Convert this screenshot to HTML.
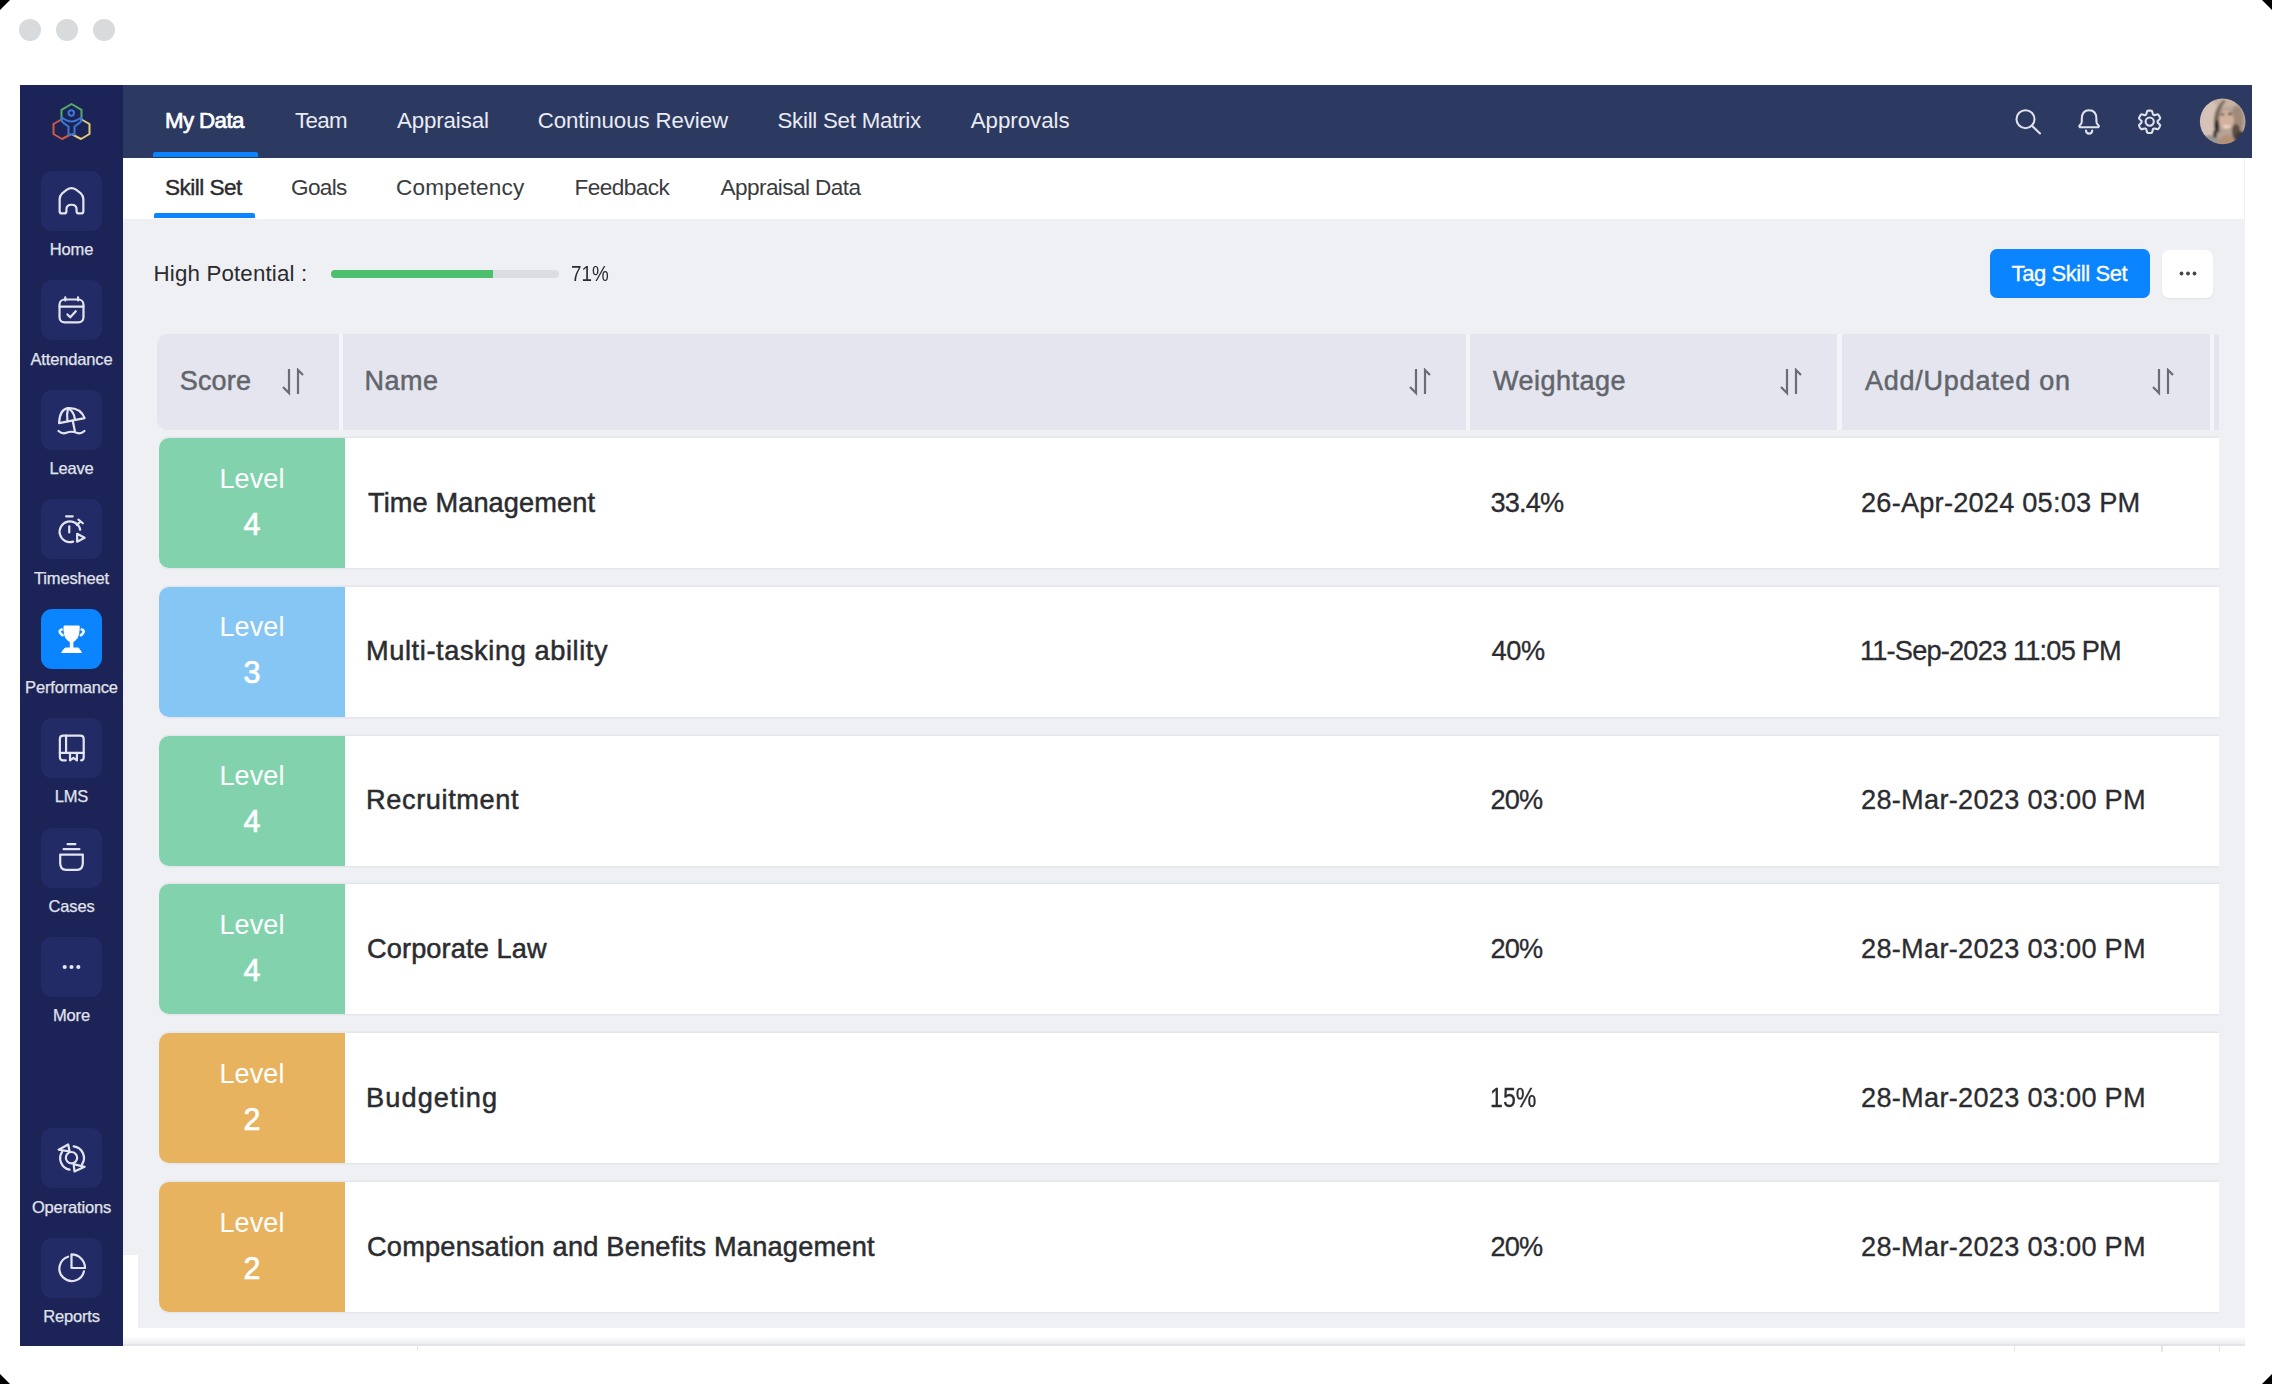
<!DOCTYPE html>
<html><head><meta charset="utf-8"><style>
*{box-sizing:border-box;margin:0;padding:0}
html,body{width:2272px;height:1384px;overflow:hidden;background:#fff}
body{position:relative;font-family:"Liberation Sans",sans-serif}
.a{position:absolute}
.tx{position:absolute;white-space:pre;line-height:1;}
.sl{position:absolute;left:20px;width:103px;text-align:center;font-size:16.5px;line-height:1;color:#e1e3ec;white-space:pre;letter-spacing:-0.15px;-webkit-text-stroke:0.25px #e1e3ec}
.sbox{position:absolute;left:41px;width:61px;height:60px;border-radius:11px}
.ic{position:absolute;left:0;top:0}
.row{position:absolute;left:159px;width:2060px;height:130px;background:#fff;border-radius:10px 0 0 10px;box-shadow:0 -1.5px 0 #e3e6ed,0 1.5px 0 #e3e6ed}
.lvl{position:absolute;left:0;top:0;width:186px;height:130px;border-radius:10px 0 0 10px;color:#fff}
.lv1{position:absolute;left:0;width:186px;text-align:center;top:27.5px;font-size:27px;line-height:1;letter-spacing:0.1px}
.lv2{position:absolute;left:0;width:186px;text-align:center;top:70.5px;font-size:30.5px;line-height:1;-webkit-text-stroke:0.7px #fff}
.hc{position:absolute;top:334px;height:96px;background:#e4e5ee}
.srt{position:absolute;top:368px}
</style></head><body>
<!-- corners -->
<svg class="a" style="left:0;top:0" width="2272" height="1384"><g fill="#000"><path d="M0 0 H10 L0 10 Z"/><path d="M2272 0 H2262 L2272 10 Z"/><path d="M0 1384 V1374 L10 1384 Z"/><path d="M2272 1384 V1374 L2262 1384 Z"/></g>
<g fill="#d9dadb"><circle cx="30" cy="29.9" r="11"/><circle cx="67" cy="29.9" r="11"/><circle cx="104" cy="29.9" r="11"/></g></svg>

<!-- sidebar -->
<div class="a" style="left:20px;top:85px;width:103px;height:1261px;background:#1c2457"></div>
<svg class="a" style="left:45px;top:95px" width="55" height="55" viewBox="45 95 55 55">
<g fill="none" stroke-width="2" stroke-linejoin="round" stroke-linecap="round">
<path d="M61.5 120 V109.8 L71.5 104 L81.5 109.8 V120" stroke="#58a86a"/>
<path d="M61.5 119.5 L53.5 124 V134 L62 139 L70.5 134.5" stroke="#d25a42"/>
<path d="M81.5 119.5 L89.5 124 V134 L81 139 L72.5 134.5" stroke="#e6cb72"/>
<path d="M62 117.5 Q67 121.5 71.5 121.5 Q76 121.5 81 117.5 L81.5 120.5 Q80 123 74.5 126.5 V134.5 H68.5 V126.5 Q63 123 61.5 120.5 Z" stroke="#3c78d2"/>
<circle cx="71.3" cy="113" r="2.7" stroke="#3c78d2"/>
</g></svg>
<div class="sbox" style="top:170.5px;background:#222b66"><svg class="ic" width="61" height="60" viewBox="-30.5 -30 61 60"><g transform="translate(0 0) scale(1.13)" fill="none" stroke="#e3e5ee" stroke-width="1.95" stroke-linecap="round" stroke-linejoin="round"><path d="M-10.5 9 V-1.5 Q-10.5 -4.5 -8 -7 L-4 -10 Q0 -13 4 -10 L8 -7 Q10.5 -4.5 10.5 -1.5 V9 Q10.5 11 8.5 11 H6.5 Q4.5 11 4.5 9 V7.5 Q4.5 3.3 0 3.3 Q-4.5 3.3 -4.5 7.5 V9 Q-4.5 11 -6.5 11 H-8.5 Q-10.5 11 -10.5 9 Z"/></g></svg></div><div class="sbox" style="top:280px;background:#222b66"><svg class="ic" width="61" height="60" viewBox="-30.5 -30 61 60"><g transform="translate(0 0) scale(1.13)" fill="none" stroke="#e3e5ee" stroke-width="1.95" stroke-linecap="round" stroke-linejoin="round"><rect x="-10.6" y="-9.3" width="21.2" height="20.3" rx="4.5"/><path d="M-5.5 -11.2 V-8.5 M5.8 -11.2 V-8.5 M-10.6 -3 H10.6"/><path d="M-3.6 3.9 L-1.1 6.5 L3.8 1.1"/></g></svg></div><div class="sbox" style="top:389.5px;background:#222b66"><svg class="ic" width="61" height="60" viewBox="-30.5 -30 61 60"><g transform="translate(0 0) scale(1.13)" fill="none" stroke="#e3e5ee" stroke-width="1.95" stroke-linecap="round" stroke-linejoin="round"><path d="M-11 2.7 Q-10.5 -9.5 -3 -10.5 Q8 -11 11.6 -1.6 Z"/><path d="M-3 -10.5 Q-4.5 -5 -3.6 1 M-3 -10.5 Q2.5 -7 3 -0.8 M1.1 0.7 L3 10"/><path d="M-11.5 9.7 Q-8 12.8 -4.5 11.3 Q0 9.5 4.5 11.3 Q8 12.8 11.5 9.7"/></g></svg></div><div class="sbox" style="top:499px;background:#222b66"><svg class="ic" width="61" height="60" viewBox="-30.5 -30 61 60"><g transform="translate(0 0) scale(1.13)" fill="none" stroke="#e3e5ee" stroke-width="1.95" stroke-linecap="round" stroke-linejoin="round"><path d="M-4.8 -11.2 H1.1"/><path d="M7.7 0.7 A9.2 9.2 0 1 0 1.5 11.2"/><path d="M-2 -2.4 V3.1"/><path d="M6.1 -8.3 L10 -5.1 M4.7 -3.7 L8 -6.6"/><path d="M5 4.2 L11.6 7.8 L5 11.2 Z"/></g></svg></div><div class="sbox" style="top:608.5px;background:#0b84ff"><svg class="ic" width="61" height="60" viewBox="-30.5 -30 61 60"><g fill="#fff" stroke="#fff" stroke-width="1" stroke-linejoin="round"><path d="M-7.5 -13 H7.7 Q7.9 -4 5 0 Q3 2.6 0.1 2.8 Q-3 2.6 -5 0 Q-7.9 -4 -7.5 -13 Z"/><rect x="-1.2" y="2" width="2.6" height="7.5"/><path d="M-5.5 9 H6.5 Q7.5 9 8 10.5 L10 13.5 H-9.8 L-7.8 10.5 Q-7 9 -5.5 9 Z"/></g><g fill="none" stroke="#fff" stroke-width="2.6" stroke-linecap="round"><path d="M-9.8 -9.5 Q-12.5 -8.8 -11.5 -6.5 Q-10.8 -5 -9 -3.8"/><path d="M10.2 -9.5 Q12.9 -8.8 11.9 -6.5 Q11.2 -5 9.4 -3.8"/></g></svg></div><div class="sbox" style="top:718px;background:#222b66"><svg class="ic" width="61" height="60" viewBox="-30.5 -30 61 60"><g transform="translate(0 0) scale(1.13)" fill="none" stroke="#e3e5ee" stroke-width="1.95" stroke-linecap="round" stroke-linejoin="round"><path d="M-5 10.9 H-7.3 Q-10.3 10.9 -10.3 7.9 V-8 Q-10.3 -11 -7.3 -11 H7.8 Q10.8 -11 10.8 -8 V7.9 Q10.8 10.9 8.5 10.9"/><path d="M-4.8 -11 V4.25 M-10.3 4.25 H10.8"/><path d="M-1.3 4.25 V11 L1.75 8.8 L4.8 11 V4.25"/></g></svg></div><div class="sbox" style="top:827.5px;background:#222b66"><svg class="ic" width="61" height="60" viewBox="-30.5 -30 61 60"><g transform="translate(0 0) scale(1.13)" fill="none" stroke="#e3e5ee" stroke-width="1.95" stroke-linecap="round" stroke-linejoin="round"><path d="M-3.5 -12.3 H3.5 M-7 -7.8 H7"/><path d="M-10 -3 H10 V4.5 Q10 10.5 5 10.5 H-5 Q-10 10.5 -10 4.5 Z"/></g></svg></div><div class="sbox" style="top:937px;background:#222b66"><svg class="ic" width="61" height="60" viewBox="-30.5 -30 61 60"><g fill="#e6e8f0"><circle cx="-6.8" cy="0" r="2.1"/><circle cx="0" cy="0" r="2.1"/><circle cx="6.8" cy="0" r="2.1"/></g></svg></div><div class="sbox" style="top:1128px;background:#222b66"><svg class="ic" width="61" height="60" viewBox="-30.5 -30 61 60"><g transform="translate(0 0) scale(1.13)" fill="none" stroke="#e3e5ee" stroke-width="1.95" stroke-linecap="round" stroke-linejoin="round"><circle cx="0" cy="-0.3" r="5"/><path d="M-8.3 -5.5 A10.3 10.3 0 0 0 -1.7 10.3"/><path d="M1.9 -10.3 A10.3 10.3 0 0 1 9.3 5.6"/><path d="M-11.4 -7.3 L-2.9 -12 L-1.7 -5.9 Z M11.6 7.8 L2.65 11.9 L1.86 5.4 Z"/></g></svg></div><div class="sbox" style="top:1237.5px;background:#222b66"><svg class="ic" width="61" height="60" viewBox="-30.5 -30 61 60"><g transform="translate(0 0) scale(1.13)" fill="none" stroke="#e3e5ee" stroke-width="1.95" stroke-linecap="round" stroke-linejoin="round"><path d="M-3 -10 A11 11 0 1 0 11 3"/><path d="M0 -12 V0 H12 A12 12 0 0 0 0 -12 Z"/></g></svg></div>
<div class="sl" style="top:240.88px">Home</div><div class="sl" style="top:350.88px">Attendance</div><div class="sl" style="top:459.88px">Leave</div><div class="sl" style="top:569.88px">Timesheet</div><div class="sl" style="top:678.88px">Performance</div><div class="sl" style="top:787.88px">LMS</div><div class="sl" style="top:897.88px">Cases</div><div class="sl" style="top:1006.88px">More</div><div class="sl" style="top:1198.88px">Operations</div><div class="sl" style="top:1308.38px">Reports</div>

<!-- topnav -->
<div class="a" style="left:123px;top:85px;width:2129px;height:73px;background:#2c3961"></div>
<div class="a" style="left:153px;top:152px;width:105px;height:5px;background:#0b84ff;border-radius:2px 2px 0 0"></div>
<svg class="a" style="left:2000px;top:95px" width="180" height="55" viewBox="2000 95 180 55"><g fill="none" stroke="#dfe2ea" stroke-width="2.1" stroke-linecap="round" stroke-linejoin="round">
<circle cx="2025.5" cy="119.2" r="9"/><path d="M2032 125.8 L2040 133.5"/>
<path d="M2081.8 119 Q2081.8 110.3 2089.1 110.3 Q2096.4 110.3 2096.4 119 V121.5 Q2096.4 123.5 2098.2 125 Q2099.5 126.5 2098.2 127.3 H2080 Q2078.7 126.5 2080 125 Q2081.8 123.5 2081.8 121.5 Z"/><path d="M2086 130.5 Q2086 133.6 2089.1 133.6 Q2092.2 133.6 2092.2 130.5"/>
<path d="M2157.60 121.80 L2157.60 122.08 L2157.58 122.36 L2157.80 122.66 L2158.12 123.00 L2158.50 123.37 L2158.92 123.78 L2159.35 124.23 L2159.78 124.72 L2160.17 125.23 L2160.12 125.63 L2159.98 126.00 L2159.83 126.36 L2159.67 126.71 L2159.49 127.06 L2159.30 127.40 L2159.10 127.74 L2158.89 128.06 L2158.66 128.38 L2158.43 128.70 L2158.18 129.00 L2157.86 129.23 L2157.22 129.15 L2156.58 129.03 L2155.98 128.88 L2155.41 128.73 L2154.90 128.58 L2154.45 128.47 L2154.07 128.43 L2153.84 128.58 L2153.60 128.73 L2153.36 128.86 L2153.11 128.99 L2152.96 129.34 L2152.82 129.78 L2152.69 130.29 L2152.54 130.86 L2152.37 131.46 L2152.16 132.07 L2151.91 132.67 L2151.54 132.83 L2151.16 132.89 L2150.77 132.94 L2150.38 132.97 L2149.99 132.99 L2149.60 133.00 L2149.21 132.99 L2148.82 132.97 L2148.43 132.94 L2148.04 132.89 L2147.66 132.83 L2147.29 132.67 L2147.04 132.07 L2146.83 131.46 L2146.66 130.86 L2146.51 130.29 L2146.38 129.78 L2146.24 129.34 L2146.09 128.99 L2145.84 128.86 L2145.60 128.73 L2145.36 128.58 L2145.13 128.43 L2144.75 128.47 L2144.30 128.58 L2143.79 128.73 L2143.22 128.88 L2142.62 129.03 L2141.98 129.15 L2141.34 129.23 L2141.02 129.00 L2140.77 128.70 L2140.54 128.38 L2140.31 128.06 L2140.10 127.74 L2139.90 127.40 L2139.71 127.06 L2139.53 126.71 L2139.37 126.36 L2139.22 126.00 L2139.08 125.63 L2139.03 125.23 L2139.42 124.72 L2139.85 124.23 L2140.28 123.78 L2140.70 123.37 L2141.08 123.00 L2141.40 122.66 L2141.62 122.36 L2141.60 122.08 L2141.60 121.80 L2141.60 121.52 L2141.62 121.24 L2141.40 120.94 L2141.08 120.60 L2140.70 120.23 L2140.28 119.82 L2139.85 119.37 L2139.42 118.88 L2139.03 118.37 L2139.08 117.97 L2139.22 117.60 L2139.37 117.24 L2139.53 116.89 L2139.71 116.54 L2139.90 116.20 L2140.10 115.86 L2140.31 115.54 L2140.54 115.22 L2140.77 114.90 L2141.02 114.60 L2141.34 114.37 L2141.98 114.45 L2142.62 114.57 L2143.22 114.72 L2143.79 114.87 L2144.30 115.02 L2144.75 115.13 L2145.13 115.17 L2145.36 115.02 L2145.60 114.87 L2145.84 114.74 L2146.09 114.61 L2146.24 114.26 L2146.38 113.82 L2146.51 113.31 L2146.66 112.74 L2146.83 112.14 L2147.04 111.53 L2147.29 110.93 L2147.66 110.77 L2148.04 110.71 L2148.43 110.66 L2148.82 110.63 L2149.21 110.61 L2149.60 110.60 L2149.99 110.61 L2150.38 110.63 L2150.77 110.66 L2151.16 110.71 L2151.54 110.77 L2151.91 110.93 L2152.16 111.53 L2152.37 112.14 L2152.54 112.74 L2152.69 113.31 L2152.82 113.82 L2152.96 114.26 L2153.11 114.61 L2153.36 114.74 L2153.60 114.87 L2153.84 115.02 L2154.07 115.17 L2154.45 115.13 L2154.90 115.02 L2155.41 114.87 L2155.98 114.72 L2156.58 114.57 L2157.22 114.45 L2157.86 114.37 L2158.18 114.60 L2158.43 114.90 L2158.66 115.22 L2158.89 115.54 L2159.10 115.86 L2159.30 116.20 L2159.49 116.54 L2159.67 116.89 L2159.83 117.24 L2159.98 117.60 L2160.12 117.97 L2160.17 118.37 L2159.78 118.88 L2159.35 119.37 L2158.92 119.82 L2158.50 120.23 L2158.12 120.60 L2157.80 120.94 L2157.58 121.24 L2157.60 121.52 Z"/>
<circle cx="2149.7" cy="121.6" r="4.1"/>
</g></svg>
<svg class="a" style="left:2195px;top:93px" width="56" height="57" viewBox="2195 93 56 57">
<defs><clipPath id="avc"><circle cx="2222.7" cy="121.4" r="22.8"/></clipPath><filter id="avb" x="-20%" y="-20%" width="140%" height="140%"><feGaussianBlur stdDeviation="1.1"/></filter></defs>
<g clip-path="url(#avc)"><g filter="url(#avb)">
<rect x="2195" y="93" width="56" height="57" fill="#b7a398"/>
<ellipse cx="2208" cy="116" rx="11" ry="22" fill="#d6c2b8"/>
<ellipse cx="2226" cy="101" rx="13" ry="6" fill="#c8b3a2"/>
<path d="M2223 100 Q2215 108 2214 118 Q2213 126 2215 133 L2220 133 Q2218 122 2220 112 Q2222 105 2226 101 Z" fill="#7a6a5e"/><ellipse cx="2217" cy="126" rx="2.2" ry="6" fill="#2f2c2b"/>
<ellipse cx="2237" cy="120" rx="6" ry="14" fill="#a08a78"/><ellipse cx="2236" cy="132" rx="4" ry="8" fill="#5b4d45"/>
<ellipse cx="2226.5" cy="120" rx="7.5" ry="9.5" fill="#d2b29c"/>
<ellipse cx="2222.5" cy="114.5" rx="2" ry="1.1" fill="#3f4843"/>
<ellipse cx="2230" cy="114" rx="2.2" ry="1.2" fill="#3f4843"/>
<ellipse cx="2226.5" cy="126.5" rx="3.6" ry="1.5" fill="#ecd8cc"/>
<ellipse cx="2227" cy="142" rx="8" ry="7" fill="#b39177"/>
<ellipse cx="2241" cy="140" rx="6" ry="9" fill="#3d383a"/>
<ellipse cx="2210" cy="141" rx="9" ry="6" fill="#9d9591"/>
<ellipse cx="2215" cy="134" rx="2" ry="4" fill="#4a3f3b"/>
</g></g></svg>

<!-- subnav -->
<div class="a" style="left:123px;top:158px;width:2122px;height:61px;background:#fff;border-right:1px solid #eceef1"></div>
<div class="a" style="left:154px;top:213px;width:101px;height:5px;background:#0b84ff;border-radius:2px 2px 0 0"></div>

<!-- content -->
<div class="a" style="left:123px;top:219px;width:2122px;height:1109px;background:#eff0f4"></div>
<div class="a" style="left:123px;top:1255px;width:15px;height:91px;background:#fff"></div>
<div class="a" style="left:123px;top:1336px;width:2122px;height:8px;background:linear-gradient(rgba(230,231,234,0),rgba(230,231,234,0.7))"></div>
<div class="a" style="left:123px;top:1344px;width:2122px;height:2px;background:#e3e4e7"></div>
<div class="a" style="left:416.5px;top:1346px;width:1.5px;height:5px;background:#e6e6e8"></div><div class="a" style="left:2013.5px;top:1346px;width:1.5px;height:6px;background:#e6e6e8"></div><div class="a" style="left:2161px;top:1346px;width:1.5px;height:6px;background:#e6e6e8"></div><div class="a" style="left:2218.5px;top:1346px;width:1.5px;height:6px;background:#e6e6e8"></div>

<div class="a" style="left:331px;top:269.5px;width:228px;height:8px;border-radius:4px;background:#dcdde1"></div>
<div class="a" style="left:331px;top:269.5px;width:162px;height:8px;border-radius:4px 0 0 4px;background:#4cbf6e"></div>

<div class="a" style="left:1990px;top:249px;width:160px;height:49px;border-radius:7px;background:#0b84ff"></div>
<div class="a" style="left:2162px;top:250px;width:51px;height:48px;border-radius:7px;background:#fff;box-shadow:0 1px 2px rgba(0,0,0,0.06)"></div>
<svg class="a" style="left:2170px;top:265px" width="36" height="16"><g fill="#45464a"><circle cx="11.5" cy="8.5" r="1.9"/><circle cx="18" cy="8.5" r="1.9"/><circle cx="24.5" cy="8.5" r="1.9"/></g></svg>

<!-- header -->
<div class="a" style="left:200px;top:334px;width:2019px;height:96px;background:#f4f5f9"></div>
<div class="hc" style="left:157px;width:182px;border-radius:11px 0 0 11px"></div>
<div class="hc" style="left:343px;width:1123px"></div>
<div class="hc" style="left:1470px;width:367px"></div>
<div class="hc" style="left:1842px;width:368px"></div>
<div class="hc" style="left:2214px;width:5px"></div>
<div class="srt" style="left:281px"><svg width="24" height="28" viewBox="0 0 24 28"><g fill="none" stroke="#6a6d74" stroke-width="2.2" stroke-linecap="butt" stroke-linejoin="miter"><path d="M8 1 V25 L2 19"/><path d="M17 26 V2 L22 7"/></g></svg></div>
<div class="srt" style="left:1408px"><svg width="24" height="28" viewBox="0 0 24 28"><g fill="none" stroke="#6a6d74" stroke-width="2.2" stroke-linecap="butt" stroke-linejoin="miter"><path d="M8 1 V25 L2 19"/><path d="M17 26 V2 L22 7"/></g></svg></div>
<div class="srt" style="left:1779px"><svg width="24" height="28" viewBox="0 0 24 28"><g fill="none" stroke="#6a6d74" stroke-width="2.2" stroke-linecap="butt" stroke-linejoin="miter"><path d="M8 1 V25 L2 19"/><path d="M17 26 V2 L22 7"/></g></svg></div>
<div class="srt" style="left:2151px"><svg width="24" height="28" viewBox="0 0 24 28"><g fill="none" stroke="#6a6d74" stroke-width="2.2" stroke-linecap="butt" stroke-linejoin="miter"><path d="M8 1 V25 L2 19"/><path d="M17 26 V2 L22 7"/></g></svg></div>

<div class="row" style="top:438.0px"><div class="lvl" style="background:#82d3ad"><div class="lv1">Level</div><div class="lv2">4</div></div></div><div class="row" style="top:586.8px"><div class="lvl" style="background:#86c6f4"><div class="lv1">Level</div><div class="lv2">3</div></div></div><div class="row" style="top:735.6px"><div class="lvl" style="background:#82d3ad"><div class="lv1">Level</div><div class="lv2">4</div></div></div><div class="row" style="top:884.4px"><div class="lvl" style="background:#82d3ad"><div class="lv1">Level</div><div class="lv2">4</div></div></div><div class="row" style="top:1033.2px"><div class="lvl" style="background:#e8b35f"><div class="lv1">Level</div><div class="lv2">2</div></div></div><div class="row" style="top:1182.0px"><div class="lvl" style="background:#e8b35f"><div class="lv1">Level</div><div class="lv2">2</div></div></div>
<div class="tx" style="left:165.00px;top:109.52px;font-size:22.3px;letter-spacing:-0.602px;color:#ffffff;-webkit-text-stroke:0.7px #fff;">My Data</div><div class="tx" style="left:295.00px;top:109.52px;font-size:22.3px;letter-spacing:-0.650px;color:#e9ebf2;">Team</div><div class="tx" style="left:397.00px;top:109.52px;font-size:22.3px;letter-spacing:-0.125px;color:#e9ebf2;">Appraisal</div><div class="tx" style="left:537.80px;top:109.52px;font-size:22.3px;letter-spacing:-0.113px;color:#e9ebf2;">Continuous Review</div><div class="tx" style="left:777.40px;top:109.52px;font-size:22.3px;letter-spacing:-0.246px;color:#e9ebf2;">Skill Set Matrix</div><div class="tx" style="left:970.80px;top:109.52px;font-size:22.3px;letter-spacing:-0.050px;color:#e9ebf2;">Approvals</div><div class="tx" style="left:165.00px;top:177.47px;font-size:22.6px;letter-spacing:-0.542px;color:#2a2b2e;-webkit-text-stroke:0.4px #2a2b2e;">Skill Set</div><div class="tx" style="left:291.00px;top:177.47px;font-size:22.6px;letter-spacing:-0.681px;color:#3b3c40;">Goals</div><div class="tx" style="left:396.00px;top:177.47px;font-size:22.6px;letter-spacing:0.162px;color:#3b3c40;">Competency</div><div class="tx" style="left:574.50px;top:177.47px;font-size:22.6px;letter-spacing:-0.547px;color:#3b3c40;">Feedback</div><div class="tx" style="left:720.60px;top:177.47px;font-size:22.6px;letter-spacing:-0.602px;color:#3b3c40;">Appraisal Data</div><div class="tx" style="left:153.50px;top:263.12px;font-size:22.3px;letter-spacing:0.166px;color:#2a2b2e;">High Potential :</div><div class="tx" style="left:570.96px;top:263.12px;font-size:22.3px;transform:scaleX(0.8447);transform-origin:0 0;color:#2a2b2e;">71%</div><div class="tx" style="left:2011.60px;top:262.78px;font-size:22px;letter-spacing:-0.420px;color:#ffffff;-webkit-text-stroke:0.3px #fff;">Tag Skill Set</div><div class="tx" style="left:179.70px;top:367.74px;font-size:27px;letter-spacing:0.196px;color:#62656b;-webkit-text-stroke:0.5px #62656b;">Score</div><div class="tx" style="left:364.50px;top:367.74px;font-size:27px;letter-spacing:0.465px;color:#62656b;-webkit-text-stroke:0.5px #62656b;">Name</div><div class="tx" style="left:1493.00px;top:367.74px;font-size:27px;letter-spacing:0.503px;color:#62656b;-webkit-text-stroke:0.5px #62656b;">Weightage</div><div class="tx" style="left:1865.00px;top:367.74px;font-size:27px;letter-spacing:0.758px;color:#62656b;-webkit-text-stroke:0.5px #62656b;">Add/Updated on</div><div class="tx" style="left:368.00px;top:488.58px;font-size:27.2px;letter-spacing:0.093px;color:#2b2c30;-webkit-text-stroke:0.5px #2b2c30;">Time Management</div><div class="tx" style="left:1490.50px;top:488.58px;font-size:27.2px;letter-spacing:-0.829px;color:#2b2c30;-webkit-text-stroke:0.3px #2b2c30;">33.4%</div><div class="tx" style="left:1861.00px;top:488.58px;font-size:27.2px;letter-spacing:0.215px;color:#2b2c30;-webkit-text-stroke:0.3px #2b2c30;">26-Apr-2024 05:03 PM</div><div class="tx" style="left:366.00px;top:637.38px;font-size:27.2px;letter-spacing:0.597px;color:#2b2c30;-webkit-text-stroke:0.5px #2b2c30;">Multi-tasking ability</div><div class="tx" style="left:1491.50px;top:637.38px;font-size:27.2px;letter-spacing:-0.370px;color:#2b2c30;-webkit-text-stroke:0.3px #2b2c30;">40%</div><div class="tx" style="left:1860.00px;top:637.38px;font-size:27.2px;letter-spacing:-0.813px;color:#2b2c30;-webkit-text-stroke:0.3px #2b2c30;">11-Sep-2023 11:05 PM</div><div class="tx" style="left:366.00px;top:786.18px;font-size:27.2px;letter-spacing:0.600px;color:#2b2c30;-webkit-text-stroke:0.5px #2b2c30;">Recruitment</div><div class="tx" style="left:1490.50px;top:786.18px;font-size:27.2px;letter-spacing:-0.870px;color:#2b2c30;-webkit-text-stroke:0.3px #2b2c30;">20%</div><div class="tx" style="left:1861.00px;top:786.18px;font-size:27.2px;letter-spacing:0.267px;color:#2b2c30;-webkit-text-stroke:0.3px #2b2c30;">28-Mar-2023 03:00 PM</div><div class="tx" style="left:367.00px;top:934.98px;font-size:27.2px;letter-spacing:0.109px;color:#2b2c30;-webkit-text-stroke:0.5px #2b2c30;">Corporate Law</div><div class="tx" style="left:1490.50px;top:934.98px;font-size:27.2px;letter-spacing:-0.870px;color:#2b2c30;-webkit-text-stroke:0.3px #2b2c30;">20%</div><div class="tx" style="left:1861.00px;top:934.98px;font-size:27.2px;letter-spacing:0.267px;color:#2b2c30;-webkit-text-stroke:0.3px #2b2c30;">28-Mar-2023 03:00 PM</div><div class="tx" style="left:366.00px;top:1083.78px;font-size:27.2px;letter-spacing:1.084px;color:#2b2c30;-webkit-text-stroke:0.5px #2b2c30;">Budgeting</div><div class="tx" style="left:1489.80px;top:1083.78px;font-size:27.2px;transform:scaleX(0.8518);transform-origin:0 0;color:#2b2c30;-webkit-text-stroke:0.3px #2b2c30;">15%</div><div class="tx" style="left:1861.00px;top:1083.78px;font-size:27.2px;letter-spacing:0.267px;color:#2b2c30;-webkit-text-stroke:0.3px #2b2c30;">28-Mar-2023 03:00 PM</div><div class="tx" style="left:367.00px;top:1232.58px;font-size:27.2px;letter-spacing:0.208px;color:#2b2c30;-webkit-text-stroke:0.5px #2b2c30;">Compensation and Benefits Management</div><div class="tx" style="left:1490.50px;top:1232.58px;font-size:27.2px;letter-spacing:-0.870px;color:#2b2c30;-webkit-text-stroke:0.3px #2b2c30;">20%</div><div class="tx" style="left:1861.00px;top:1232.58px;font-size:27.2px;letter-spacing:0.267px;color:#2b2c30;-webkit-text-stroke:0.3px #2b2c30;">28-Mar-2023 03:00 PM</div>
</body></html>
